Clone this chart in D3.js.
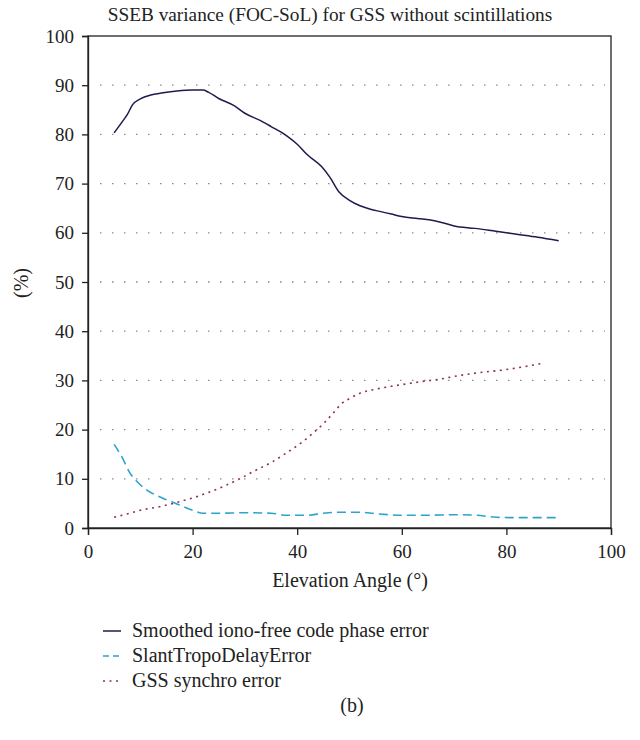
<!DOCTYPE html>
<html>
<head>
<meta charset="utf-8">
<title>SSEB variance</title>
<script src="https://d3js.org/d3.v7.min.js"></script>
<style>
  body { margin: 0; background: #fff; }
  text { font-family: "Liberation Serif", "DejaVu Serif", serif; fill: #222; }
</style>
</head>
<body>
<script>
// smoothed iono-free code phase error
var ionoX = [5, 6.5, 7.5, 8.5, 10, 12, 14, 17, 20, 22, 23, 25, 28, 30, 33, 35, 38, 40, 42, 44.7, 46.3, 48, 50, 52, 54, 56, 58, 60, 63, 66, 68, 70, 74, 78, 82, 86, 90];
var ionoY = [80.3, 82.5, 84, 86, 87.2, 88, 88.4, 88.8, 89, 89, 88.6, 87.3, 85.8, 84.3, 82.8, 81.6, 79.7, 78, 75.8, 73.4, 71.2, 68.3, 66.6, 65.5, 64.8, 64.3, 63.8, 63.3, 62.9, 62.5, 62, 61.4, 60.9, 60.3, 59.7, 59.1, 58.4];
// slant tropo delay error
var tropoX = [5, 6.5, 8, 9.5, 11, 14, 17, 20, 22, 25, 30, 35, 38, 42, 45, 48, 52, 55, 60, 65, 70, 74, 78, 82, 86, 90];
var tropoY = [17, 14.4, 11.2, 9.3, 7.9, 6.2, 4.9, 3.6, 3.0, 3.0, 3.1, 3.0, 2.6, 2.6, 3.0, 3.2, 3.2, 2.9, 2.6, 2.6, 2.7, 2.6, 2.2, 2.1, 2.1, 2.1];
// GSS synchro error
var syncX = [5, 8, 10, 14, 17, 20, 23, 26, 29, 32, 35, 38, 41, 43, 45, 47, 48.5, 50, 52, 55, 58, 61, 64, 67, 71, 75, 80, 84, 87];
var syncY = [2.2, 3.0, 3.6, 4.4, 5.2, 6.1, 7.2, 8.5, 10, 11.7, 13.3, 15.3, 17.5, 19.3, 21.2, 23.5, 25.3, 26.3, 27.4, 28.2, 28.8, 29.3, 29.8, 30.2, 31, 31.6, 32.2, 32.9, 33.5];

var xTicks = [0, 20, 40, 60, 80, 100];
var yTicks = [0, 10, 20, 30, 40, 50, 60, 70, 80, 90, 100];
var names = ["Smoothed iono-free code phase error", "SlantTropoDelayError", "GSS synchro error"];
var colors = ["#1c1c4e", "#2ea3cd", "#8e2f5a"];
var dashes = [null, "9,5", "2,4.5"];

var w = 640, h = 740;
var mLeft = 88, mRight = 611, mTop = 36, mBottom = 528;

var svg = d3.select("body").append("svg")
    .attr("width", w)
    .attr("height", h);

var x = d3.scaleLinear().domain([0, 100]).range([mLeft, mRight]);
var y = d3.scaleLinear().domain([0, 100]).range([mBottom, mTop]);

// dotted gridlines
svg.append("g")
    .selectAll("line")
    .data(yTicks.filter(function(d) { return d > 0 && d < 100; }))
    .enter().append("line")
    .attr("x1", mLeft + 12).attr("x2", mRight - 6)
    .attr("y1", function(d) { return y(d); })
    .attr("y2", function(d) { return y(d); })
    .attr("stroke", "#8a8a8a")
    .attr("stroke-width", 1.3)
    .attr("stroke-dasharray", "1.5,10.5");

// frame
svg.append("rect")
    .attr("x", mLeft).attr("y", mTop)
    .attr("width", mRight - mLeft).attr("height", mBottom - mTop)
    .attr("fill", "none").attr("stroke", "#222").attr("stroke-width", 1.3);

var xAxis = svg.append("g")
    .attr("transform", "translate(0," + mBottom + ")")
    .call(d3.axisBottom(x).tickValues(xTicks).tickSize(7).tickPadding(6));
var yAxis = svg.append("g")
    .attr("transform", "translate(" + mLeft + ",0)")
    .call(d3.axisLeft(y).tickValues(yTicks).tickSize(6).tickPadding(8));

[xAxis, yAxis].forEach(function(a) {
    a.select(".domain").attr("stroke", "#222").attr("stroke-width", 1.3);
    a.selectAll(".tick line").attr("stroke", "#222").attr("stroke-width", 1.3);
    a.selectAll(".tick text")
        .attr("font-family", "Liberation Serif, DejaVu Serif, serif")
        .attr("font-size", 19).attr("fill", "#222");
});
xAxis.selectAll(".tick text").attr("dy", "0.9em");

// series
var series = [[ionoX, ionoY], [tropoX, tropoY], [syncX, syncY]];
var line = d3.line()
    .x(function(d) { return x(d[0]); })
    .y(function(d) { return y(d[1]); })
    .curve(d3.curveMonotoneX);

series.forEach(function(s, i) {
    var pts = s[0].map(function(v, j) { return [v, s[1][j]]; });
    svg.append("path")
        .datum(pts)
        .attr("d", line)
        .attr("fill", "none")
        .attr("stroke", colors[i])
        .attr("stroke-width", i == 0 ? 1.5 : 1.6)
        .attr("stroke-dasharray", dashes[i]);
});

// title and axis labels
svg.append("text")
    .attr("x", 330).attr("y", 21)
    .attr("text-anchor", "middle")
    .attr("font-size", 19.3)
    .text("SSEB variance (FOC-SoL) for GSS without scintillations");

svg.append("text")
    .attr("x", 350).attr("y", 587)
    .attr("text-anchor", "middle")
    .attr("font-size", 20)
    .text("Elevation Angle (°)");

svg.append("text")
    .attr("transform", "translate(28,283) rotate(-90)")
    .attr("text-anchor", "middle")
    .attr("font-size", 20)
    .text("(%)");

// legend
var legend = svg.append("g");
names.forEach(function(n, i) {
    var ly = 631 + i * 25;
    legend.append("line")
        .attr("x1", 103).attr("x2", 121)
        .attr("y1", ly).attr("y2", ly)
        .attr("stroke", colors[i])
        .attr("stroke-width", 1.5)
        .attr("stroke-dasharray", i == 1 ? "6,4" : dashes[i]);
    legend.append("text")
        .attr("x", 132).attr("y", ly + 6)
        .attr("font-size", 20)
        .text(n);
});

svg.append("text")
    .attr("x", 352).attr("y", 712)
    .attr("text-anchor", "middle")
    .attr("font-size", 20)
    .text("(b)");
</script>
</body>
</html>
